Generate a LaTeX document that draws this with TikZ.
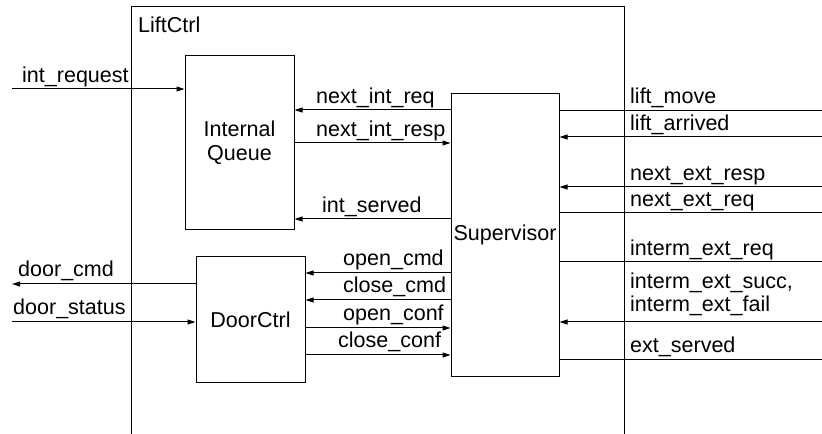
\documentclass[tikz,border=0pt]{standalone}
\usepackage{fontspec}
\setmainfont{Liberation Sans}
\usetikzlibrary{arrows.meta}
\begin{document}
\begin{tikzpicture}[x=1bp,y=-1bp,
  every node/.style={font=\fontsize{21.6}{23.7}\selectfont},
  block/.style={draw=black, line width=1bp, inner sep=0pt, align=center},
  sig/.style={line width=1bp, draw=black},
  arr/.style={sig, -{Triangle[length=8bp,width=5bp]}},
  lbl/.style={anchor=base west, inner sep=0pt, align=left}]
\useasboundingbox (0,0) rectangle (822,434);

% LiftCtrl frame (open at the bottom)
\draw[sig] (131,434) -- (131,7) -- (624,7) -- (624,434);
\node[lbl] (liftctrl) at (138,33) {LiftCtrl};

% blocks
\node[block, minimum width=109bp, minimum height=174bp] (iq) at (239.5,143) {Internal\\Queue};
\node[block, minimum width=108bp, minimum height=282bp] (sup) at (505,235) {Supervisor};
\node[block, minimum width=109bp, minimum height=125bp] (door) at (250.5,319.5) {DoorCtrl};

% external ends on the left
\coordinate (inreq) at (12,89);
\coordinate (dcmd) at (12,284);
\coordinate (dstat) at (12,322);

\draw[arr] (inreq) -- (iq.west |- inreq);
\node[lbl] (l_inreq) at (22,83) {int\_request};
\draw[arr] (door.west |- dcmd) -- (dcmd);
\node[lbl] (l_dcmd) at (18,277) {door\_cmd};
\draw[arr] (dstat) -- (door.west |- dstat);
\node[lbl] (l_dstat) at (13,315) {door\_status};

% Internal Queue <-> Supervisor
\draw[arr] (sup.west |- 0,110) -- (iq.east |- 0,110);
\node[lbl] (l_nir) at (316,104) {next\_int\_req};
\draw[arr] (iq.east |- 0,143) -- (sup.west |- 0,143);
\node[lbl] (l_nirs) at (316,137) {next\_int\_resp};
\draw[arr] (sup.west |- 0,219) -- (iq.east |- 0,219);
\node[lbl] (l_is) at (322,213) {int\_served};

% DoorCtrl <-> Supervisor
\draw[arr] (sup.west |- 0,273) -- (door.east |- 0,273);
\node[lbl] (l_oc) at (343,266) {open\_cmd};
\draw[arr] (sup.west |- 0,300) -- (door.east |- 0,300);
\node[lbl] (l_cc) at (343,293) {close\_cmd};
\draw[arr] (door.east |- 0,328) -- (sup.west |- 0,328);
\node[lbl] (l_ocf) at (343,321) {open\_conf};
\draw[arr] (door.east |- 0,355) -- (sup.west |- 0,355);
\node[lbl] (l_ccf) at (338,348) {close\_conf};

% external ends on the right
\coordinate (r1) at (822,111);
\coordinate (r2) at (822,137);
\coordinate (r3) at (822,187);
\coordinate (r4) at (822,213);
\coordinate (r5) at (822,262);
\coordinate (r6) at (822,322);
\coordinate (r7) at (822,360);

\draw[sig] (sup.east |- r1) -- (r1);
\node[lbl] (l_lm) at (630,104) {lift\_move};
\draw[arr] (r2) -- (sup.east |- r2);
\node[lbl] (l_la) at (630,130.5) {lift\_arrived};
\draw[arr] (r3) -- (sup.east |- r3);
\node[lbl] (l_ner) at (630,180.5) {next\_ext\_resp};
\draw[sig] (sup.east |- r4) -- (r4);
\node[lbl] (l_neq) at (630,207) {next\_ext\_req};
\draw[sig] (sup.east |- r5) -- (r5);
\node[lbl] (l_ier) at (630,256) {interm\_ext\_req};
\draw[arr] (r6) -- (sup.east |- r6);
\node[lbl] (l_ies) at (630,311.7) {interm\_ext\_succ,\\interm\_ext\_fail};
\draw[sig] (sup.east |- r7) -- (r7);
\node[lbl] (l_es) at (630,353) {ext\_served};
\end{tikzpicture}
\end{document}
